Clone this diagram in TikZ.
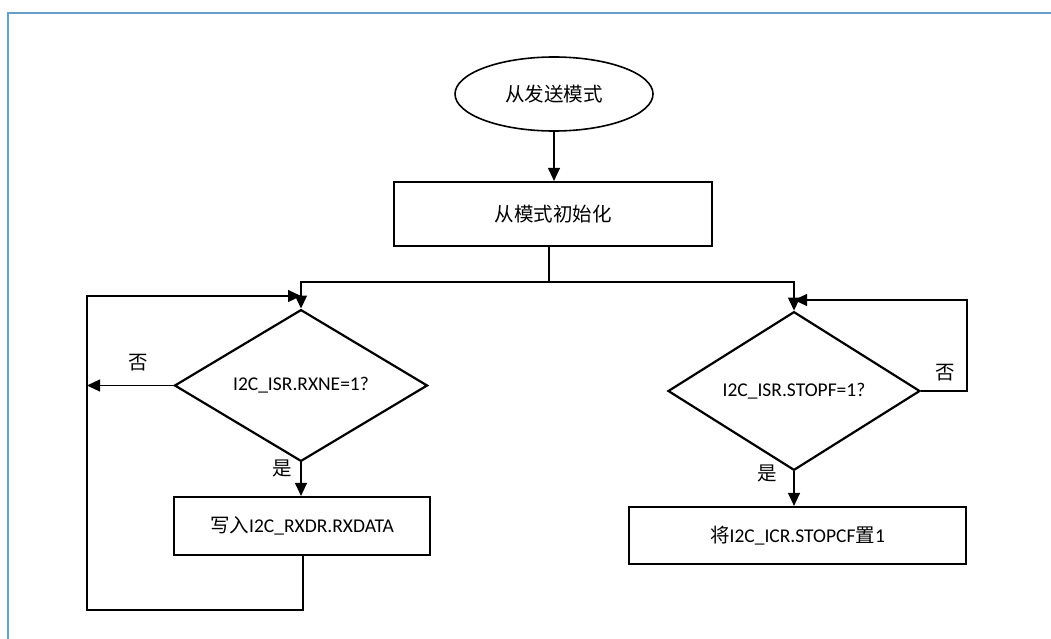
\documentclass[tikz,border=0pt]{standalone}
\usepackage{fontspec}
\setmainfont{Carlito}
\newfontfamily\cjk{Noto Sans CJK SC}
\usetikzlibrary{shapes.geometric,arrows.meta}
\definecolor{framec}{RGB}{100,160,200}
\tikzset{
  txt/.style={font=\fontsize{19.5}{22}\selectfont},
  box/.style={draw, line width=2.2pt, rectangle, inner sep=0pt, txt},
  startnode/.style={draw, line width=1.6pt, ellipse, inner sep=0pt, minimum width=198pt, minimum height=74pt, txt},
  decide/.style={draw, line width=2.2pt, diamond, inner sep=0pt, txt},
  arr/.style={line width=1.2pt, -{Triangle[length=13pt,width=12pt]}},
  ln/.style={line width=1.2pt},
  lbl/.style={txt, inner sep=0pt}
}
\begin{document}
\begin{tikzpicture}[x=1pt,y=-1pt]
\useasboundingbox (0,0) rectangle (1051,639);
\draw[framec, line width=2pt] (8,639) -- (8,13) -- (1051,13);

\node[startnode] (start) at (554,94) {{\cjk 从发送模式}};
\node[box, minimum width=318pt, minimum height=64pt] (init) at (553,214) {{\cjk 从模式初始化}};
\node[decide, minimum width=253pt, minimum height=125pt] (dec1) at (301,385.5) {I2C\_ISR.RXNE=1?};
\node[box, minimum width=256pt, minimum height=58pt] (wr) at (302,526) {{\cjk 写入}I2C\_RXDR.RXDATA};
\node[decide, minimum width=252pt, minimum height=124pt] (dec2) at (794,391) {I2C\_ISR.STOPF=1?};
\node[box, minimum width=337pt, minimum height=57pt] (clr) at (797.5,535.5) {{\cjk 将}I2C\_ICR.STOPCF{\cjk 置}1};

\node[lbl] (no1) at (138,363) {\cjk 否};
\node[lbl] (yes1) at (282,468) {\cjk 是};
\node[lbl] (no2) at (945,373) {\cjk 否};
\node[lbl] (yes2) at (767,473) {\cjk 是};

\coordinate (sp) at (549,282);
\coordinate (lx) at (87,385.5);
\coordinate (lb) at (87,610);
\coordinate (lt) at (87,296);
\coordinate (rx) at (967,391);
\coordinate (rt) at (967,300);

\draw[arr] (start.south) -- (start.south |- init.north);
\draw[ln] (sp |- init.south) -- (sp);
\draw[arr] (sp) -| (dec1.north);
\draw[arr] (sp) -| (dec2.north);

\draw[arr] (dec1.west) -- (lx);
\draw[arr] (dec1.south) -- (dec1.south |- wr.north);
\draw[arr] (wr.south -| 303,0) |- (lb) -- (lt) -- (dec1.north |- lt);

\draw[arr] (dec2.east) -- (rx) -- (rt) -- (dec2.north |- rt);
\draw[arr] (dec2.south) -- (dec2.south |- clr.north);
\end{tikzpicture}
\end{document}
